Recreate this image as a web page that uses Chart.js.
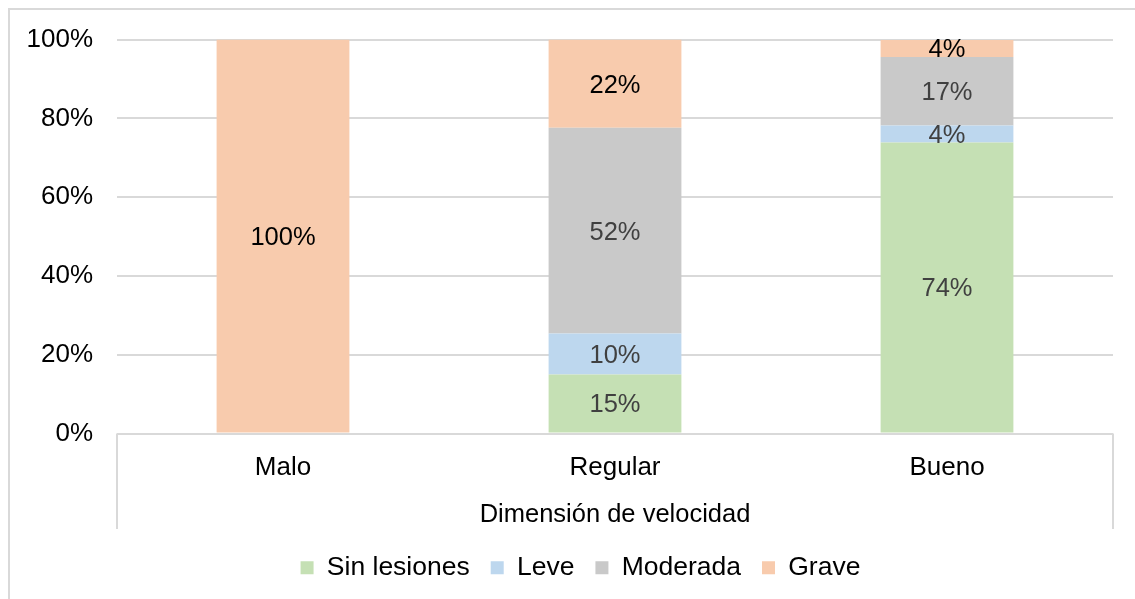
<!DOCTYPE html>
<html>
<head>
<meta charset="utf-8">
<script src="https://cdn.jsdelivr.net/npm/chart.js@4/dist/chart.umd.min.js"></script>
<style>
  html, body { margin: 0; padding: 0; background: #fff; }
  #wrap { width: 1135px; height: 599px; }
</style>
</head>
<body>
<div id="wrap"><canvas id="grafico" width="1135" height="599"></canvas></div>
<script>
var categorias = ['Malo', 'Regular', 'Bueno'];
var sinLesiones = [0, 15.0, 73.9];
var leve = [0, 10.4, 4.3];
var moderada = [0, 52.2, 17.4];
var grave = [100, 22.4, 4.3];
var ticksY = [0, 20, 40, 60, 80, 100];

var fuente = '"Liberation Sans", Arial, sans-serif';
var gris = '#d9d9d9';

// marco del grafico y caja del eje de categorias
var marco = {
    id: 'marco',
    afterLayout: function (chart) {
        // la leyenda va centrada un poco mas a la derecha
        if (chart.legend) chart.legend.left += 48;
    },
    beforeDraw: function (chart) {
        var c = chart.ctx;
        c.save();
        c.fillStyle = '#fff';
        c.fillRect(0, 0, chart.width, chart.height);
        c.fillStyle = gris;
        c.fillRect(8, 8, 2, chart.height);
        c.fillRect(8, 8, chart.width, 2);
        var a = chart.chartArea;
        c.fillRect(a.left - 1, a.bottom, 2, 95.5);
        c.fillRect(a.right - 1, a.bottom, 2, 95.5);
        c.restore();
    }
};

// etiquetas de valor dentro de cada segmento
var etiquetas = {
    id: 'etiquetas',
    afterDatasetsDraw: function (chart) {
        var c = chart.ctx;
        c.save();
        c.font = '25.5px ' + fuente;
        c.textAlign = 'center';
        c.textBaseline = 'middle';
        chart.data.datasets.forEach(function (ds, i) {
            var meta = chart.getDatasetMeta(i);
            meta.data.forEach(function (bar, j) {
                var v = ds.data[j];
                if (!v) return;
                c.fillStyle = ds.colorTexto;
                c.fillText(Math.round(v) + '%', bar.x, (bar.y + bar.base) / 2 + 2);
            });
        });
        c.restore();
    }
};

function serie(nombre, datos, color, colorTexto) {
    return {
        label: nombre,
        data: datos,
        backgroundColor: color,
        borderWidth: 0,
        colorTexto: colorTexto,
        categoryPercentage: 1,
        barPercentage: 0.4
    };
}

new Chart(document.getElementById('grafico'), {
    type: 'bar',
    data: {
        labels: categorias,
        datasets: [
            serie('Sin lesiones', sinLesiones, '#c5e0b4', '#404040'),
            serie('Leve', leve, '#bdd7ee', '#404040'),
            serie('Moderada', moderada, '#c9c9c9', '#404040'),
            serie('Grave', grave, '#f8cbad', '#000000')
        ]
    },
    options: {
        responsive: false,
        animation: false,
        layout: { padding: { left: 0, right: 22, top: 38, bottom: 8 } },
        scales: {
            x: {
                stacked: true,
                grid: { display: false, drawTicks: false },
                border: { display: false },
                ticks: { color: '#000', font: { family: fuente, size: 26 }, padding: 18.5 },
                title: {
                    display: true,
                    text: 'Dimensión de velocidad',
                    color: '#000',
                    font: { family: fuente, size: 25.5 },
                    padding: { top: 0, bottom: 3 }
                },
                afterFit: function (s) { s.height = 100; }
            },
            y: {
                stacked: true,
                min: 0,
                max: 100,
                afterBuildTicks: function (s) {
                    s.ticks = ticksY.map(function (v) { return { value: v }; });
                },
                grid: { color: gris, lineWidth: 2, drawTicks: false },
                border: { display: false },
                ticks: {
                    color: '#000',
                    padding: 24,
                    font: { family: fuente, size: 26 },
                    callback: function (v) { return v + '%'; }
                },
                afterFit: function (s) { s.width = 117; }
            }
        },
        plugins: {
            legend: {
                position: 'bottom',
                labels: {
                    color: '#000',
                    boxWidth: 13,
                    boxHeight: 13,
                    padding: 21,
                    font: { family: fuente, size: 26.5 }
                }
            },
            tooltip: { enabled: false }
        }
    },
    plugins: [marco, etiquetas]
});
</script>
</body>
</html>
